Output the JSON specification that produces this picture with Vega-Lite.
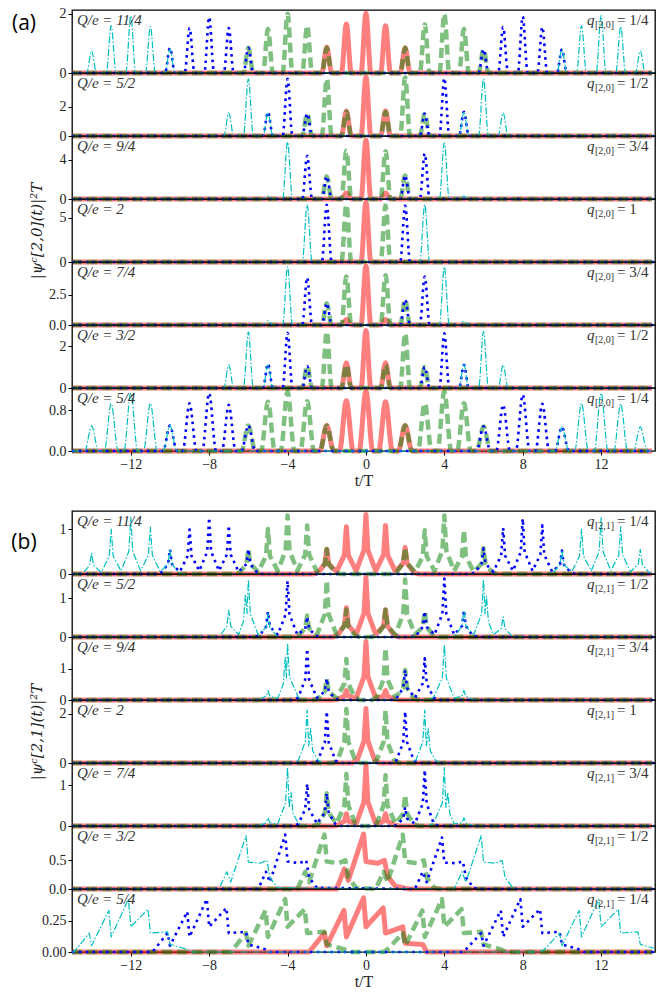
{
"$schema":"https://vega.github.io/schema/vega-lite/v6.json",
"padding":{"left":10,"top":6,"right":0,"bottom":0},
"background":"white",
"spacing":21,
"config":{
"view":{"stroke":"#000","strokeWidth":1.3},
"line":{"strokeJoin":"round"},
"text":{"font":"Liberation Serif","fontSize":15,"color":"#333","align":"left","baseline":"middle"},
"axis":{"labelFont":"Liberation Serif","labelFontSize":14,"labelColor":"#222","tickColor":"#000","tickSize":4,"domain":false,"grid":false,"labelPadding":2,"titleFont":"Liberation Serif","titleFontSize":16,"titleFontWeight":"normal","titleColor":"#222","labelFlush":false}
},
"datasets":{
"a1r":[{"x":-15,"y":0},{"x":-2.25,"y":0},{"x":-2,"y":0.88},{"x":-1.75,"y":0},{"x":-1.25,"y":0},{"x":-1,"y":1.66},{"x":-0.75,"y":0},{"x":-0.25,"y":0},{"x":0,"y":2.02},{"x":0.25,"y":0},{"x":0.75,"y":0},{"x":1,"y":1.6},{"x":1.25,"y":0},{"x":1.75,"y":0},{"x":2,"y":0.85},{"x":2.25,"y":0},{"x":14.6,"y":0}],
"a1g":[{"x":-15,"y":0},{"x":-6.25,"y":0},{"x":-6,"y":0.85},{"x":-5.75,"y":0},{"x":-5.25,"y":0},{"x":-5,"y":1.49},{"x":-4.75,"y":0},{"x":-4.25,"y":0},{"x":-4,"y":2.0},{"x":-3.75,"y":0},{"x":-3.25,"y":0},{"x":-3,"y":1.6},{"x":-2.75,"y":0},{"x":-2.25,"y":0},{"x":-2,"y":0.85},{"x":-1.75,"y":0},{"x":1.75,"y":0},{"x":2,"y":0.85},{"x":2.25,"y":0},{"x":2.75,"y":0},{"x":3,"y":1.64},{"x":3.25,"y":0},{"x":3.75,"y":0},{"x":4,"y":2.0},{"x":4.25,"y":0},{"x":4.75,"y":0},{"x":5,"y":1.49},{"x":5.25,"y":0},{"x":5.75,"y":0},{"x":6,"y":0.8},{"x":6.25,"y":0},{"x":14.6,"y":0}],
"a1b":[{"x":-15,"y":0},{"x":-10.25,"y":0},{"x":-10,"y":0.85},{"x":-9.75,"y":0},{"x":-9.25,"y":0},{"x":-9,"y":1.52},{"x":-8.75,"y":0},{"x":-8.25,"y":0},{"x":-8,"y":1.89},{"x":-7.75,"y":0},{"x":-7.25,"y":0},{"x":-7,"y":1.52},{"x":-6.75,"y":0},{"x":-6.25,"y":0},{"x":-6,"y":0.85},{"x":-5.75,"y":0},{"x":5.75,"y":0},{"x":6,"y":0.8},{"x":6.25,"y":0},{"x":6.75,"y":0},{"x":7,"y":1.55},{"x":7.25,"y":0},{"x":7.75,"y":0},{"x":8,"y":1.91},{"x":8.25,"y":0},{"x":8.75,"y":0},{"x":9,"y":1.55},{"x":9.25,"y":0},{"x":9.75,"y":0},{"x":10,"y":0.8},{"x":10.25,"y":0},{"x":14.7,"y":0}],
"a1c":[{"x":-15,"y":0},{"x":-14.25,"y":0},{"x":-14,"y":0.75},{"x":-13.75,"y":0},{"x":-13.25,"y":0},{"x":-13,"y":1.6},{"x":-12.75,"y":0},{"x":-12.25,"y":0},{"x":-12,"y":1.94},{"x":-11.75,"y":0},{"x":-11.25,"y":0},{"x":-11,"y":1.57},{"x":-10.75,"y":0},{"x":-10.25,"y":0},{"x":-10,"y":0.8},{"x":-9.75,"y":0},{"x":9.75,"y":0},{"x":10,"y":0.8},{"x":10.25,"y":0},{"x":10.75,"y":0},{"x":11,"y":1.6},{"x":11.25,"y":0},{"x":11.75,"y":0},{"x":12,"y":1.94},{"x":12.25,"y":0},{"x":12.75,"y":0},{"x":13,"y":1.57},{"x":13.25,"y":0},{"x":13.75,"y":0},{"x":14,"y":0.75},{"x":14.25,"y":0},{"x":14.7,"y":0}],
"a2r":[{"x":-15,"y":0},{"x":-1.25,"y":0},{"x":-1,"y":1.7},{"x":-0.75,"y":0},{"x":-0.25,"y":0},{"x":0,"y":4.04},{"x":0.25,"y":0},{"x":0.75,"y":0},{"x":1,"y":1.72},{"x":1.25,"y":0},{"x":14.6,"y":0}],
"a2g":[{"x":-15,"y":0},{"x":-3.25,"y":0},{"x":-3,"y":1.53},{"x":-2.75,"y":0},{"x":-2.25,"y":0},{"x":-2,"y":3.9},{"x":-1.75,"y":0},{"x":-1.25,"y":0},{"x":-1,"y":1.65},{"x":-0.75,"y":0},{"x":0.75,"y":0},{"x":1,"y":1.65},{"x":1.25,"y":0},{"x":1.75,"y":0},{"x":2,"y":4.0},{"x":2.25,"y":0},{"x":2.75,"y":0},{"x":3,"y":1.53},{"x":3.25,"y":0},{"x":14.6,"y":0}],
"a2b":[{"x":-15,"y":0},{"x":-5.25,"y":0},{"x":-5,"y":1.65},{"x":-4.75,"y":0},{"x":-4.25,"y":0},{"x":-4,"y":3.9},{"x":-3.75,"y":0},{"x":-3.25,"y":0},{"x":-3,"y":1.53},{"x":-2.75,"y":0},{"x":2.75,"y":0},{"x":3,"y":1.53},{"x":3.25,"y":0},{"x":3.75,"y":0},{"x":4,"y":3.95},{"x":4.25,"y":0},{"x":4.75,"y":0},{"x":5,"y":1.65},{"x":5.25,"y":0},{"x":14.7,"y":0}],
"a2c":[{"x":-15,"y":0},{"x":-7.25,"y":0},{"x":-7,"y":1.58},{"x":-6.75,"y":0},{"x":-6.25,"y":0},{"x":-6,"y":3.9},{"x":-5.75,"y":0},{"x":-5.25,"y":0},{"x":-5,"y":1.6},{"x":-4.75,"y":0},{"x":4.75,"y":0},{"x":5,"y":1.6},{"x":5.25,"y":0},{"x":5.75,"y":0},{"x":6,"y":3.9},{"x":6.25,"y":0},{"x":6.75,"y":0},{"x":7,"y":1.58},{"x":7.25,"y":0},{"x":14.7,"y":0}],
"a3r":[{"x":-15,"y":0},{"x":-1.25,"y":0},{"x":-1,"y":0.6},{"x":-0.75,"y":0},{"x":-0.25,"y":0},{"x":0,"y":6.0},{"x":0.25,"y":0},{"x":0.75,"y":0},{"x":1,"y":0.6},{"x":1.25,"y":0},{"x":14.6,"y":0}],
"a3g":[{"x":-15,"y":0},{"x":-2.25,"y":0},{"x":-2,"y":2.3},{"x":-1.75,"y":0},{"x":-1.25,"y":0},{"x":-1,"y":4.9},{"x":-0.75,"y":0},{"x":0.75,"y":0},{"x":1,"y":4.85},{"x":1.25,"y":0},{"x":1.75,"y":0},{"x":2,"y":2.4},{"x":2.25,"y":0},{"x":14.6,"y":0}],
"a3b":[{"x":-15,"y":0},{"x":-3.25,"y":0},{"x":-3,"y":4.4},{"x":-2.75,"y":0},{"x":-2.25,"y":0},{"x":-2,"y":2.3},{"x":-1.75,"y":0},{"x":1.75,"y":0},{"x":2,"y":2.4},{"x":2.25,"y":0},{"x":2.75,"y":0},{"x":3,"y":4.6},{"x":3.25,"y":0},{"x":14.7,"y":0}],
"a3c":[{"x":-15,"y":0},{"x":-6.25,"y":0},{"x":-6,"y":0.1},{"x":-5.75,"y":0},{"x":-5.25,"y":0},{"x":-5,"y":0.3},{"x":-4.75,"y":0},{"x":-4.25,"y":0},{"x":-4,"y":5.8},{"x":-3.75,"y":0},{"x":3.75,"y":0},{"x":4,"y":5.7},{"x":4.25,"y":0},{"x":4.75,"y":0},{"x":5,"y":0.3},{"x":5.25,"y":0},{"x":5.75,"y":0},{"x":6,"y":0.1},{"x":6.25,"y":0},{"x":14.7,"y":0}],
"a4r":[{"x":-15,"y":0},{"x":-0.25,"y":0},{"x":0,"y":6.8},{"x":0.25,"y":0},{"x":14.6,"y":0}],
"a4g":[{"x":-15,"y":0},{"x":-1.25,"y":0},{"x":-1,"y":6.5},{"x":-0.75,"y":0},{"x":0.75,"y":0},{"x":1,"y":6.4},{"x":1.25,"y":0},{"x":14.6,"y":0}],
"a4b":[{"x":-15,"y":0},{"x":-2.25,"y":0},{"x":-2,"y":6.5},{"x":-1.75,"y":0},{"x":1.75,"y":0},{"x":2,"y":6.4},{"x":2.25,"y":0},{"x":14.7,"y":0}],
"a4c":[{"x":-15,"y":0},{"x":-3.25,"y":0},{"x":-3,"y":6.5},{"x":-2.75,"y":0},{"x":2.75,"y":0},{"x":3,"y":6.5},{"x":3.25,"y":0},{"x":14.7,"y":0}],
"a5r":[{"x":-15,"y":0},{"x":-1.25,"y":0},{"x":-1,"y":0.45},{"x":-0.75,"y":0},{"x":-0.25,"y":0},{"x":0,"y":4.9},{"x":0.25,"y":0},{"x":0.75,"y":0},{"x":1,"y":0.45},{"x":1.25,"y":0},{"x":14.6,"y":0}],
"a5g":[{"x":-15,"y":0},{"x":-2.25,"y":0},{"x":-2,"y":1.8},{"x":-1.75,"y":0},{"x":-1.25,"y":0},{"x":-1,"y":4.0},{"x":-0.75,"y":0},{"x":0.75,"y":0},{"x":1,"y":4.1},{"x":1.25,"y":0},{"x":1.75,"y":0},{"x":2,"y":2.1},{"x":2.25,"y":0},{"x":14.6,"y":0}],
"a5b":[{"x":-15,"y":0},{"x":-3.25,"y":0},{"x":-3,"y":3.9},{"x":-2.75,"y":0},{"x":-2.25,"y":0},{"x":-2,"y":1.8},{"x":-1.75,"y":0},{"x":1.75,"y":0},{"x":2,"y":2.1},{"x":2.25,"y":0},{"x":2.75,"y":0},{"x":3,"y":4.0},{"x":3.25,"y":0},{"x":14.7,"y":0}],
"a5c":[{"x":-15,"y":0},{"x":-5.25,"y":0},{"x":-5,"y":0.35},{"x":-4.75,"y":0},{"x":-4.25,"y":0},{"x":-4,"y":4.8},{"x":-3.75,"y":0},{"x":3.75,"y":0},{"x":4,"y":4.8},{"x":4.25,"y":0},{"x":4.75,"y":0},{"x":5,"y":0.3},{"x":5.25,"y":0},{"x":14.7,"y":0}],
"a6r":[{"x":-15,"y":0},{"x":-1.25,"y":0},{"x":-1,"y":1.2},{"x":-0.75,"y":0},{"x":-0.25,"y":0},{"x":0,"y":2.74},{"x":0.25,"y":0},{"x":0.75,"y":0},{"x":1,"y":1.2},{"x":1.25,"y":0},{"x":14.6,"y":0}],
"a6g":[{"x":-15,"y":0},{"x":-3.25,"y":0},{"x":-3,"y":1.05},{"x":-2.75,"y":0},{"x":-2.25,"y":0},{"x":-2,"y":2.69},{"x":-1.75,"y":0},{"x":-1.25,"y":0},{"x":-1,"y":1.1},{"x":-0.75,"y":0},{"x":0.75,"y":0},{"x":1,"y":1.1},{"x":1.25,"y":0},{"x":1.75,"y":0},{"x":2,"y":2.6},{"x":2.25,"y":0},{"x":2.75,"y":0},{"x":3,"y":1.0},{"x":3.25,"y":0},{"x":14.6,"y":0}],
"a6b":[{"x":-15,"y":0},{"x":-5.25,"y":0},{"x":-5,"y":1.16},{"x":-4.75,"y":0},{"x":-4.25,"y":0},{"x":-4,"y":2.63},{"x":-3.75,"y":0},{"x":-3.25,"y":0},{"x":-3,"y":1.05},{"x":-2.75,"y":0},{"x":2.75,"y":0},{"x":3,"y":1.0},{"x":3.25,"y":0},{"x":3.75,"y":0},{"x":4,"y":2.6},{"x":4.25,"y":0},{"x":4.75,"y":0},{"x":5,"y":1.1},{"x":5.25,"y":0},{"x":14.7,"y":0}],
"a6c":[{"x":-15,"y":0},{"x":-7.25,"y":0},{"x":-7,"y":1.1},{"x":-6.75,"y":0},{"x":-6.25,"y":0},{"x":-6,"y":2.67},{"x":-5.75,"y":0},{"x":-5.25,"y":0},{"x":-5,"y":1.1},{"x":-4.75,"y":0},{"x":4.75,"y":0},{"x":5,"y":1.1},{"x":5.25,"y":0},{"x":5.75,"y":0},{"x":6,"y":2.69},{"x":6.25,"y":0},{"x":6.75,"y":0},{"x":7,"y":1.1},{"x":7.25,"y":0},{"x":14.7,"y":0}],
"a7r":[{"x":-15,"y":0},{"x":-2.35,"y":0},{"x":-2,"y":0.5},{"x":-1.65,"y":0},{"x":-1.35,"y":0},{"x":-1,"y":0.98},{"x":-0.65,"y":0},{"x":-0.35,"y":0},{"x":0,"y":1.17},{"x":0.35,"y":0},{"x":0.65,"y":0},{"x":1,"y":0.96},{"x":1.35,"y":0},{"x":1.65,"y":0},{"x":2,"y":0.5},{"x":2.35,"y":0},{"x":14.6,"y":0}],
"a7g":[{"x":-15,"y":0},{"x":-6.35,"y":0},{"x":-6,"y":0.5},{"x":-5.65,"y":0},{"x":-5.35,"y":0},{"x":-5,"y":0.96},{"x":-4.65,"y":0},{"x":-4.35,"y":0},{"x":-4,"y":1.16},{"x":-3.65,"y":0},{"x":-3.35,"y":0},{"x":-3,"y":0.97},{"x":-2.65,"y":0},{"x":-2.35,"y":0},{"x":-2,"y":0.5},{"x":-1.65,"y":0},{"x":1.65,"y":0},{"x":2,"y":0.5},{"x":2.35,"y":0},{"x":2.65,"y":0},{"x":3,"y":0.93},{"x":3.35,"y":0},{"x":3.65,"y":0},{"x":4,"y":1.16},{"x":4.35,"y":0},{"x":4.65,"y":0},{"x":5,"y":0.93},{"x":5.35,"y":0},{"x":5.65,"y":0},{"x":6,"y":0.48},{"x":6.35,"y":0},{"x":14.6,"y":0}],
"a7b":[{"x":-15,"y":0},{"x":-10.35,"y":0},{"x":-10,"y":0.5},{"x":-9.65,"y":0},{"x":-9.35,"y":0},{"x":-9,"y":0.93},{"x":-8.65,"y":0},{"x":-8.35,"y":0},{"x":-8,"y":1.13},{"x":-7.65,"y":0},{"x":-7.35,"y":0},{"x":-7,"y":0.9},{"x":-6.65,"y":0},{"x":-6.35,"y":0},{"x":-6,"y":0.5},{"x":-5.65,"y":0},{"x":5.65,"y":0},{"x":6,"y":0.48},{"x":6.35,"y":0},{"x":6.65,"y":0},{"x":7,"y":0.9},{"x":7.35,"y":0},{"x":7.65,"y":0},{"x":8,"y":1.1},{"x":8.35,"y":0},{"x":8.65,"y":0},{"x":9,"y":0.92},{"x":9.35,"y":0},{"x":9.65,"y":0},{"x":10,"y":0.47},{"x":10.35,"y":0},{"x":14.7,"y":0}],
"a7c":[{"x":-15,"y":0},{"x":-14.35,"y":0},{"x":-14,"y":0.49},{"x":-13.65,"y":0},{"x":-13.35,"y":0},{"x":-13,"y":0.93},{"x":-12.65,"y":0},{"x":-12.35,"y":0},{"x":-12,"y":1.13},{"x":-11.65,"y":0},{"x":-11.35,"y":0},{"x":-11,"y":0.93},{"x":-10.65,"y":0},{"x":-10.35,"y":0},{"x":-10,"y":0.5},{"x":-9.65,"y":0},{"x":9.65,"y":0},{"x":10,"y":0.47},{"x":10.35,"y":0},{"x":10.65,"y":0},{"x":11,"y":0.93},{"x":11.35,"y":0},{"x":11.65,"y":0},{"x":12,"y":1.13},{"x":12.35,"y":0},{"x":12.65,"y":0},{"x":13,"y":0.92},{"x":13.35,"y":0},{"x":13.65,"y":0},{"x":14,"y":0.47},{"x":14.35,"y":0},{"x":14.7,"y":0}],
"b1r":[{"x":-15,"y":0},{"x":-2.7,"y":0},{"x":-2.45,"y":0.03},{"x":-2.1,"y":0.22},{"x":-2,"y":0.55},{"x":-1.9,"y":0.22},{"x":-1.5,"y":0.05},{"x":-1.1,"y":0.42},{"x":-1,"y":1.05},{"x":-0.9,"y":0.42},{"x":-0.5,"y":0.07},{"x":-0.1,"y":0.53},{"x":0,"y":1.32},{"x":0.1,"y":0.53},{"x":0.5,"y":0.07},{"x":0.9,"y":0.43},{"x":1,"y":1.08},{"x":1.1,"y":0.43},{"x":1.5,"y":0.05},{"x":1.9,"y":0.24},{"x":2,"y":0.59},{"x":2.1,"y":0.24},{"x":2.45,"y":0.03},{"x":2.7,"y":0},{"x":14.6,"y":0}],
"b1g":[{"x":-15,"y":0},{"x":-6.7,"y":0},{"x":-6.45,"y":0.03},{"x":-6.1,"y":0.22},{"x":-6,"y":0.55},{"x":-5.9,"y":0.22},{"x":-5.5,"y":0.05},{"x":-5.1,"y":0.4},{"x":-5,"y":1.0},{"x":-4.9,"y":0.4},{"x":-4.5,"y":0.07},{"x":-4.1,"y":0.52},{"x":-4,"y":1.3},{"x":-3.9,"y":0.52},{"x":-3.5,"y":0.07},{"x":-3.1,"y":0.43},{"x":-3,"y":1.08},{"x":-2.9,"y":0.43},{"x":-2.5,"y":0.05},{"x":-2.1,"y":0.22},{"x":-2,"y":0.55},{"x":-1.9,"y":0.22},{"x":-1.55,"y":0.03},{"x":-1.3,"y":0},{"x":1.3,"y":0},{"x":1.55,"y":0.03},{"x":1.9,"y":0.24},{"x":2,"y":0.59},{"x":2.1,"y":0.24},{"x":2.5,"y":0.05},{"x":2.9,"y":0.39},{"x":3,"y":0.97},{"x":3.1,"y":0.39},{"x":3.5,"y":0.07},{"x":3.9,"y":0.52},{"x":4,"y":1.3},{"x":4.1,"y":0.52},{"x":4.5,"y":0.07},{"x":4.9,"y":0.39},{"x":5,"y":0.98},{"x":5.1,"y":0.39},{"x":5.5,"y":0.05},{"x":5.9,"y":0.23},{"x":6,"y":0.57},{"x":6.1,"y":0.23},{"x":6.45,"y":0.03},{"x":6.7,"y":0},{"x":14.6,"y":0}],
"b1b":[{"x":-15,"y":0},{"x":-10.7,"y":0},{"x":-10.45,"y":0.03},{"x":-10.1,"y":0.22},{"x":-10,"y":0.55},{"x":-9.9,"y":0.22},{"x":-9.5,"y":0.05},{"x":-9.1,"y":0.4},{"x":-9,"y":0.99},{"x":-8.9,"y":0.4},{"x":-8.5,"y":0.07},{"x":-8.1,"y":0.5},{"x":-8,"y":1.25},{"x":-7.9,"y":0.5},{"x":-7.5,"y":0.07},{"x":-7.1,"y":0.43},{"x":-7,"y":1.08},{"x":-6.9,"y":0.43},{"x":-6.5,"y":0.05},{"x":-6.1,"y":0.22},{"x":-6,"y":0.55},{"x":-5.9,"y":0.22},{"x":-5.55,"y":0.03},{"x":-5.3,"y":0},{"x":5.3,"y":0},{"x":5.55,"y":0.03},{"x":5.9,"y":0.23},{"x":6,"y":0.57},{"x":6.1,"y":0.23},{"x":6.5,"y":0.05},{"x":6.9,"y":0.41},{"x":7,"y":1.02},{"x":7.1,"y":0.41},{"x":7.5,"y":0.07},{"x":7.9,"y":0.49},{"x":8,"y":1.23},{"x":8.1,"y":0.49},{"x":8.5,"y":0.07},{"x":8.9,"y":0.43},{"x":9,"y":1.08},{"x":9.1,"y":0.43},{"x":9.5,"y":0.05},{"x":9.9,"y":0.21},{"x":10,"y":0.52},{"x":10.1,"y":0.21},{"x":10.45,"y":0.03},{"x":10.7,"y":0},{"x":14.7,"y":0}],
"b1c":[{"x":-15,"y":0},{"x":-14.7,"y":0},{"x":-14.45,"y":0.02},{"x":-14.1,"y":0.19},{"x":-14,"y":0.47},{"x":-13.9,"y":0.19},{"x":-13.5,"y":0.04},{"x":-13.1,"y":0.4},{"x":-13,"y":1.0},{"x":-12.9,"y":0.4},{"x":-12.5,"y":0.07},{"x":-12.1,"y":0.5},{"x":-12,"y":1.26},{"x":-11.9,"y":0.5},{"x":-11.5,"y":0.07},{"x":-11.1,"y":0.42},{"x":-11,"y":1.04},{"x":-10.9,"y":0.42},{"x":-10.5,"y":0.05},{"x":-10.1,"y":0.22},{"x":-10,"y":0.55},{"x":-9.9,"y":0.22},{"x":-9.55,"y":0.03},{"x":-9.3,"y":0},{"x":9.3,"y":0},{"x":9.55,"y":0.03},{"x":9.9,"y":0.21},{"x":10,"y":0.52},{"x":10.1,"y":0.21},{"x":10.5,"y":0.05},{"x":10.9,"y":0.4},{"x":11,"y":1.0},{"x":11.1,"y":0.4},{"x":11.5,"y":0.07},{"x":11.9,"y":0.5},{"x":12,"y":1.25},{"x":12.1,"y":0.5},{"x":12.5,"y":0.07},{"x":12.9,"y":0.42},{"x":13,"y":1.05},{"x":13.1,"y":0.42},{"x":13.5,"y":0.05},{"x":13.9,"y":0.22},{"x":14,"y":0.55},{"x":14.1,"y":0.22},{"x":14.45,"y":0.03},{"x":14.7,"y":0}],
"b2r":[{"x":-15,"y":0},{"x":-1.7,"y":0},{"x":-1.45,"y":0.04},{"x":-1.1,"y":0.3},{"x":-1,"y":0.75},{"x":-0.9,"y":0.3},{"x":-0.5,"y":0.07},{"x":-0.1,"y":0.61},{"x":0,"y":1.53},{"x":0.1,"y":0.61},{"x":0.5,"y":0.07},{"x":0.9,"y":0.28},{"x":1,"y":0.7},{"x":1.1,"y":0.28},{"x":1.45,"y":0.04},{"x":1.7,"y":0},{"x":14.6,"y":0}],
"b2g":[{"x":-15,"y":0},{"x":-3.7,"y":0},{"x":-3.45,"y":0.03},{"x":-3.1,"y":0.22},{"x":-3,"y":0.55},{"x":-2.9,"y":0.22},{"x":-2.5,"y":0.06},{"x":-2.1,"y":0.58},{"x":-2,"y":1.45},{"x":-1.9,"y":0.58},{"x":-1.5,"y":0.06},{"x":-1.1,"y":0.28},{"x":-1,"y":0.7},{"x":-0.9,"y":0.28},{"x":-0.55,"y":0.04},{"x":-0.3,"y":0},{"x":0.3,"y":0},{"x":0.55,"y":0.04},{"x":0.9,"y":0.28},{"x":1,"y":0.7},{"x":1.1,"y":0.28},{"x":1.5,"y":0.06},{"x":1.9,"y":0.59},{"x":2,"y":1.48},{"x":2.1,"y":0.59},{"x":2.5,"y":0.06},{"x":2.9,"y":0.26},{"x":3,"y":0.66},{"x":3.1,"y":0.26},{"x":3.45,"y":0.03},{"x":3.7,"y":0},{"x":14.6,"y":0}],
"b2b":[{"x":-15,"y":0},{"x":-5.7,"y":0},{"x":-5.45,"y":0.03},{"x":-5.1,"y":0.26},{"x":-5,"y":0.65},{"x":-4.9,"y":0.26},{"x":-4.5,"y":0.06},{"x":-4.1,"y":0.58},{"x":-4,"y":1.44},{"x":-3.9,"y":0.58},{"x":-3.5,"y":0.06},{"x":-3.1,"y":0.21},{"x":-3,"y":0.52},{"x":-2.9,"y":0.21},{"x":-2.55,"y":0.03},{"x":-2.3,"y":0},{"x":2.3,"y":0},{"x":2.55,"y":0.03},{"x":2.9,"y":0.26},{"x":3,"y":0.66},{"x":3.1,"y":0.26},{"x":3.5,"y":0.06},{"x":3.9,"y":0.6},{"x":4,"y":1.5},{"x":4.1,"y":0.6},{"x":4.5,"y":0.06},{"x":4.9,"y":0.28},{"x":5,"y":0.69},{"x":5.1,"y":0.28},{"x":5.45,"y":0.03},{"x":5.7,"y":0},{"x":14.7,"y":0}],
"b2c":[{"x":-15,"y":0},{"x":-7.7,"y":0},{"x":-7.45,"y":0.03},{"x":-7.1,"y":0.28},{"x":-7,"y":0.69},{"x":-6.9,"y":0.28},{"x":-6.5,"y":0.06},{"x":-6.25,"y":0.4},{"x":-6.15,"y":1.1},{"x":-6.07,"y":0.6},{"x":-6,"y":1.48},{"x":-5.9,"y":0.59},{"x":-5.5,"y":0.06},{"x":-5.1,"y":0.24},{"x":-5,"y":0.6},{"x":-4.9,"y":0.24},{"x":-4.55,"y":0.03},{"x":-4.3,"y":0},{"x":4.3,"y":0},{"x":4.55,"y":0.03},{"x":4.9,"y":0.28},{"x":5,"y":0.69},{"x":5.1,"y":0.28},{"x":5.5,"y":0.06},{"x":5.9,"y":0.59},{"x":6,"y":1.48},{"x":6.08,"y":0.6},{"x":6.15,"y":1.05},{"x":6.25,"y":0.4},{"x":6.5,"y":0.06},{"x":6.9,"y":0.21},{"x":7,"y":0.52},{"x":7.1,"y":0.21},{"x":7.45,"y":0.03},{"x":7.7,"y":0},{"x":14.7,"y":0}],
"b3r":[{"x":-15,"y":0},{"x":-1.7,"y":0},{"x":-1.45,"y":0.02},{"x":-1.1,"y":0.12},{"x":-1,"y":0.3},{"x":-0.9,"y":0.12},{"x":-0.5,"y":0.06},{"x":-0.1,"y":0.74},{"x":0,"y":1.86},{"x":0.1,"y":0.74},{"x":0.5,"y":0.06},{"x":0.9,"y":0.12},{"x":1,"y":0.3},{"x":1.1,"y":0.12},{"x":1.45,"y":0.02},{"x":1.7,"y":0},{"x":14.6,"y":0}],
"b3g":[{"x":-15,"y":0},{"x":-2.7,"y":0},{"x":-2.45,"y":0.03},{"x":-2.1,"y":0.27},{"x":-2,"y":0.68},{"x":-1.9,"y":0.27},{"x":-1.5,"y":0.06},{"x":-1.1,"y":0.52},{"x":-1,"y":1.3},{"x":-0.9,"y":0.52},{"x":-0.55,"y":0.07},{"x":-0.3,"y":0},{"x":0.3,"y":0},{"x":0.55,"y":0.08},{"x":0.9,"y":0.66},{"x":1,"y":1.65},{"x":1.1,"y":0.66},{"x":1.5,"y":0.08},{"x":1.9,"y":0.38},{"x":2,"y":0.95},{"x":2.1,"y":0.38},{"x":2.45,"y":0.05},{"x":2.7,"y":0},{"x":14.6,"y":0}],
"b3b":[{"x":-15,"y":0},{"x":-3.7,"y":0},{"x":-3.45,"y":0.08},{"x":-3.1,"y":0.65},{"x":-3,"y":1.62},{"x":-2.9,"y":0.65},{"x":-2.5,"y":0.07},{"x":-2.1,"y":0.27},{"x":-2,"y":0.68},{"x":-1.9,"y":0.27},{"x":-1.55,"y":0.03},{"x":-1.3,"y":0},{"x":1.3,"y":0},{"x":1.55,"y":0.05},{"x":1.9,"y":0.38},{"x":2,"y":0.95},{"x":2.1,"y":0.38},{"x":2.5,"y":0.07},{"x":2.9,"y":0.53},{"x":3,"y":1.32},{"x":3.1,"y":0.53},{"x":3.45,"y":0.07},{"x":3.7,"y":0},{"x":14.7,"y":0}],
"b3c":[{"x":-15,"y":0},{"x":-5.7,"y":0},{"x":-5.45,"y":0.02},{"x":-5.1,"y":0.12},{"x":-5,"y":0.3},{"x":-4.9,"y":0.12},{"x":-4.5,"y":0.06},{"x":-4.22,"y":0.5},{"x":-4.12,"y":1.35},{"x":-4.06,"y":0.7},{"x":-4,"y":1.8},{"x":-3.9,"y":0.72},{"x":-3.45,"y":0.09},{"x":-3.2,"y":0},{"x":3.2,"y":0},{"x":3.45,"y":0.09},{"x":3.9,"y":0.7},{"x":4,"y":1.75},{"x":4.1,"y":0.7},{"x":4.5,"y":0.06},{"x":4.9,"y":0.12},{"x":5,"y":0.3},{"x":5.1,"y":0.12},{"x":5.45,"y":0.02},{"x":5.7,"y":0},{"x":14.7,"y":0}],
"b4r":[{"x":-15,"y":0},{"x":-0.7,"y":0},{"x":-0.45,"y":0.11},{"x":-0.1,"y":0.89},{"x":0,"y":2.22},{"x":0.1,"y":0.89},{"x":0.45,"y":0.11},{"x":0.7,"y":0},{"x":14.6,"y":0}],
"b4g":[{"x":-15,"y":0},{"x":-1.7,"y":0},{"x":-1.45,"y":0.11},{"x":-1.1,"y":0.88},{"x":-1,"y":2.2},{"x":-0.9,"y":0.88},{"x":-0.55,"y":0.11},{"x":-0.3,"y":0},{"x":0.3,"y":0},{"x":0.55,"y":0.11},{"x":0.9,"y":0.86},{"x":1,"y":2.16},{"x":1.1,"y":0.86},{"x":1.45,"y":0.11},{"x":1.7,"y":0},{"x":14.6,"y":0}],
"b4b":[{"x":-15,"y":0},{"x":-2.7,"y":0},{"x":-2.45,"y":0.1},{"x":-2.1,"y":0.84},{"x":-2,"y":2.1},{"x":-1.9,"y":0.84},{"x":-1.55,"y":0.1},{"x":-1.3,"y":0},{"x":1.3,"y":0},{"x":1.55,"y":0.1},{"x":1.9,"y":0.84},{"x":2,"y":2.1},{"x":2.1,"y":0.84},{"x":2.45,"y":0.1},{"x":2.7,"y":0},{"x":14.7,"y":0}],
"b4c":[{"x":-15,"y":0},{"x":-3.7,"y":0},{"x":-3.45,"y":0.11},{"x":-3.1,"y":0.86},{"x":-3,"y":2.16},{"x":-2.92,"y":0.7},{"x":-2.82,"y":1.4},{"x":-2.72,"y":0.5},{"x":-2.45,"y":0.11},{"x":-2.2,"y":0},{"x":2.3,"y":0},{"x":2.55,"y":0.11},{"x":2.9,"y":0.86},{"x":3,"y":2.16},{"x":3.08,"y":0.7},{"x":3.18,"y":1.4},{"x":3.28,"y":0.5},{"x":3.55,"y":0.11},{"x":3.8,"y":0},{"x":14.7,"y":0}],
"b5r":[{"x":-15,"y":0},{"x":-1.7,"y":0},{"x":-1.45,"y":0.02},{"x":-1.1,"y":0.12},{"x":-1,"y":0.3},{"x":-0.9,"y":0.12},{"x":-0.5,"y":0.05},{"x":-0.1,"y":0.59},{"x":0,"y":1.47},{"x":0.1,"y":0.59},{"x":0.5,"y":0.05},{"x":0.9,"y":0.12},{"x":1,"y":0.3},{"x":1.1,"y":0.12},{"x":1.45,"y":0.02},{"x":1.7,"y":0},{"x":14.6,"y":0}],
"b5g":[{"x":-15,"y":0},{"x":-2.7,"y":0},{"x":-2.45,"y":0.04},{"x":-2.1,"y":0.32},{"x":-2,"y":0.8},{"x":-1.9,"y":0.32},{"x":-1.5,"y":0.06},{"x":-1.1,"y":0.51},{"x":-1,"y":1.27},{"x":-0.9,"y":0.51},{"x":-0.55,"y":0.06},{"x":-0.3,"y":0},{"x":0.3,"y":0},{"x":0.55,"y":0.06},{"x":0.9,"y":0.5},{"x":1,"y":1.24},{"x":1.1,"y":0.5},{"x":1.5,"y":0.06},{"x":1.9,"y":0.3},{"x":2,"y":0.76},{"x":2.1,"y":0.3},{"x":2.45,"y":0.04},{"x":2.7,"y":0},{"x":14.6,"y":0}],
"b5b":[{"x":-15,"y":0},{"x":-3.7,"y":0},{"x":-3.45,"y":0.05},{"x":-3.1,"y":0.41},{"x":-3,"y":1.03},{"x":-2.9,"y":0.41},{"x":-2.5,"y":0.06},{"x":-2.1,"y":0.32},{"x":-2,"y":0.8},{"x":-1.9,"y":0.32},{"x":-1.55,"y":0.04},{"x":-1.3,"y":0},{"x":1.3,"y":0},{"x":1.55,"y":0.02},{"x":1.9,"y":0.18},{"x":2,"y":0.46},{"x":2.1,"y":0.18},{"x":2.5,"y":0.06},{"x":2.9,"y":0.55},{"x":3,"y":1.37},{"x":3.1,"y":0.55},{"x":3.45,"y":0.07},{"x":3.7,"y":0},{"x":14.7,"y":0}],
"b5c":[{"x":-15,"y":0},{"x":-5.7,"y":0},{"x":-5.45,"y":0.01},{"x":-5.1,"y":0.08},{"x":-5,"y":0.2},{"x":-4.9,"y":0.08},{"x":-4.5,"y":0.05},{"x":-4.1,"y":0.57},{"x":-4,"y":1.43},{"x":-3.92,"y":0.45},{"x":-3.82,"y":0.82},{"x":-3.72,"y":0.3},{"x":-3.45,"y":0.07},{"x":-3.2,"y":0},{"x":3.2,"y":0},{"x":3.45,"y":0.07},{"x":3.9,"y":0.57},{"x":4,"y":1.43},{"x":4.08,"y":0.45},{"x":4.18,"y":0.82},{"x":4.28,"y":0.3},{"x":4.5,"y":0.05},{"x":4.9,"y":0.08},{"x":5,"y":0.2},{"x":5.1,"y":0.08},{"x":5.45,"y":0.01},{"x":5.7,"y":0},{"x":14.7,"y":0}],
"b6r":[{"x":-15,"y":0},{"x":-1.5,"y":0},{"x":-1.1,"y":0.35},{"x":-0.9,"y":0.15},{"x":-0.12,"y":0.96},{"x":0,"y":0.48},{"x":0.6,"y":0.45},{"x":0.95,"y":0.5},{"x":1.1,"y":0.22},{"x":1.5,"y":0.05},{"x":2.2,"y":0},{"x":14.6,"y":0}],
"b6g":[{"x":-15,"y":0},{"x":-3.5,"y":0},{"x":-3.1,"y":0.3},{"x":-2.9,"y":0.12},{"x":-2.12,"y":0.95},{"x":-2,"y":0.48},{"x":-1.4,"y":0.45},{"x":-1.05,"y":0.5},{"x":-0.9,"y":0.2},{"x":-0.5,"y":0.02},{"x":0.5,"y":0},{"x":0.9,"y":0.3},{"x":1.1,"y":0.12},{"x":1.88,"y":0.95},{"x":2,"y":0.48},{"x":2.6,"y":0.45},{"x":2.95,"y":0.5},{"x":3.1,"y":0.2},{"x":3.5,"y":0.02},{"x":3.8,"y":0},{"x":14.6,"y":0}],
"b6b":[{"x":-15,"y":0},{"x":-5.5,"y":0},{"x":-5.1,"y":0.3},{"x":-4.9,"y":0.12},{"x":-4.12,"y":0.95},{"x":-4,"y":0.48},{"x":-3.4,"y":0.45},{"x":-3.05,"y":0.5},{"x":-2.9,"y":0.2},{"x":-2.5,"y":0.02},{"x":2.5,"y":0},{"x":2.9,"y":0.3},{"x":3.1,"y":0.12},{"x":3.88,"y":0.9},{"x":4,"y":0.46},{"x":4.6,"y":0.45},{"x":4.95,"y":0.48},{"x":5.1,"y":0.2},{"x":5.5,"y":0.02},{"x":5.8,"y":0},{"x":14.7,"y":0}],
"b6c":[{"x":-15,"y":0},{"x":-7.5,"y":0},{"x":-7.1,"y":0.3},{"x":-6.9,"y":0.12},{"x":-6.12,"y":0.93},{"x":-6,"y":0.47},{"x":-5.4,"y":0.45},{"x":-5.05,"y":0.5},{"x":-4.9,"y":0.2},{"x":-4.5,"y":0.02},{"x":4.5,"y":0},{"x":4.9,"y":0.3},{"x":5.1,"y":0.12},{"x":5.88,"y":0.93},{"x":6,"y":0.47},{"x":6.6,"y":0.45},{"x":6.95,"y":0.5},{"x":7.1,"y":0.2},{"x":7.5,"y":0.02},{"x":7.8,"y":0},{"x":14.7,"y":0}],
"b7r":[{"x":-15,"y":0},{"x":-2.9,"y":0},{"x":-2.12,"y":0.15},{"x":-2,"y":0.05},{"x":-1.12,"y":0.33},{"x":-1,"y":0.12},{"x":-0.12,"y":0.43},{"x":0,"y":0.2},{"x":0.88,"y":0.35},{"x":1,"y":0.15},{"x":1.88,"y":0.2},{"x":2,"y":0.07},{"x":2.9,"y":0.06},{"x":3.1,"y":0},{"x":14.6,"y":0}],
"b7g":[{"x":-15,"y":0},{"x":-6.9,"y":0},{"x":-6.12,"y":0.15},{"x":-6,"y":0.05},{"x":-5.12,"y":0.33},{"x":-5,"y":0.12},{"x":-4.12,"y":0.42},{"x":-4,"y":0.2},{"x":-3.12,"y":0.34},{"x":-3,"y":0.15},{"x":-2.12,"y":0.16},{"x":-2,"y":0.06},{"x":-1.1,"y":0.02},{"x":-0.9,"y":0},{"x":0.9,"y":0},{"x":1.1,"y":0.02},{"x":1.88,"y":0.15},{"x":2,"y":0.05},{"x":2.88,"y":0.33},{"x":3,"y":0.12},{"x":3.88,"y":0.42},{"x":4,"y":0.2},{"x":4.88,"y":0.34},{"x":5,"y":0.15},{"x":5.88,"y":0.16},{"x":6,"y":0.06},{"x":6.9,"y":0.02},{"x":7.1,"y":0},{"x":14.6,"y":0}],
"b7b":[{"x":-15,"y":0},{"x":-10.9,"y":0},{"x":-10.12,"y":0.15},{"x":-10,"y":0.05},{"x":-9.12,"y":0.32},{"x":-9,"y":0.12},{"x":-8.12,"y":0.42},{"x":-8,"y":0.2},{"x":-7.12,"y":0.35},{"x":-7,"y":0.15},{"x":-6.12,"y":0.16},{"x":-6,"y":0.06},{"x":-5.1,"y":0.02},{"x":-4.9,"y":0},{"x":4.9,"y":0},{"x":5.1,"y":0.02},{"x":5.88,"y":0.15},{"x":6,"y":0.05},{"x":6.88,"y":0.33},{"x":7,"y":0.12},{"x":7.88,"y":0.42},{"x":8,"y":0.2},{"x":8.88,"y":0.34},{"x":9,"y":0.15},{"x":9.88,"y":0.16},{"x":10,"y":0.06},{"x":10.9,"y":0.02},{"x":11.1,"y":0},{"x":14.7,"y":0}],
"b7c":[{"x":-15,"y":0},{"x":-14.9,"y":0},{"x":-14.12,"y":0.15},{"x":-14,"y":0.05},{"x":-13.12,"y":0.33},{"x":-13,"y":0.12},{"x":-12.12,"y":0.42},{"x":-12,"y":0.2},{"x":-11.12,"y":0.34},{"x":-11,"y":0.15},{"x":-10.12,"y":0.16},{"x":-10,"y":0.06},{"x":-9.1,"y":0.02},{"x":-8.9,"y":0},{"x":8.9,"y":0},{"x":9.1,"y":0.02},{"x":9.88,"y":0.15},{"x":10,"y":0.05},{"x":10.88,"y":0.33},{"x":11,"y":0.12},{"x":11.88,"y":0.42},{"x":12,"y":0.2},{"x":12.88,"y":0.34},{"x":13,"y":0.15},{"x":13.88,"y":0.16},{"x":14,"y":0.06},{"x":14.7,"y":0.03}]
},
"vconcat":[
{"spacing":0,"bounds":"flush","resolve":{"scale":{"x":"independent","y":"independent"}},"vconcat":[
{"width":583,"height":63,"layer":[
{"encoding":{"x":{"field":"x","type":"quantitative","scale":{"domain":[-15,14.75],"nice":false,"zero":false},"axis":null},"y":{"field":"y","type":"quantitative","scale":{"domain":[0,2.13],"nice":false,"zero":false},"axis":{"values":[0,2],"format":"d","title":null}}},"layer":[
{"data":{"name":"a1r"},"mark":{"type":"line","color":"#ff0000","opacity":0.5,"strokeWidth":5,"interpolate":"monotone"}},
{"data":{"name":"a1g"},"mark":{"type":"line","color":"#008000","opacity":0.5,"strokeWidth":4.5,"strokeDash":[10,5],"interpolate":"monotone"}},
{"data":{"name":"a1b"},"mark":{"type":"line","color":"#0000ff","strokeWidth":2.6,"strokeDash":[2.6,4.2],"interpolate":"monotone"}},
{"data":{"name":"a1c"},"mark":{"type":"line","color":"#00bfbf","strokeWidth":1.2,"strokeDash":[7,2,1.5,2],"interpolate":"monotone"}}]},
{"data":{"values":[{"t":"(a)"}]},"mark":{"type":"text","font":"Open Sans","fontSize":21,"color":"#000","align":"center"},"encoding":{"x":{"datum":-17.45,"axis":null},"y":{"datum":1.66},"text":{"field":"t"}}},
{"data":{"values":[{"t":"Q/e = 11/4"}]},"mark":{"type":"text","fontStyle":"italic"},"encoding":{"x":{"datum":-14.75,"axis":null},"y":{"datum":1.79},"text":{"field":"t"}}},
{"data":{"values":[{"t":"q"}]},"mark":{"type":"text","fontStyle":"italic"},"encoding":{"x":{"datum":11.28,"axis":null},"y":{"datum":1.79},"text":{"field":"t"}}},
{"data":{"values":[{"t":"[2,0]"}]},"mark":{"type":"text","fontSize":10,"dx":8,"dy":5},"encoding":{"x":{"datum":11.28,"axis":null},"y":{"datum":1.79},"text":{"field":"t"}}},
{"data":{"values":[{"t":"= 1/4"}]},"mark":{"type":"text","dx":30},"encoding":{"x":{"datum":11.28,"axis":null},"y":{"datum":1.79},"text":{"field":"t"}}}
]},
{"width":583,"height":63,"layer":[
{"encoding":{"x":{"field":"x","type":"quantitative","scale":{"domain":[-15,14.75],"nice":false,"zero":false},"axis":null},"y":{"field":"y","type":"quantitative","scale":{"domain":[0,4.3],"nice":false,"zero":false},"axis":{"values":[0,2],"format":"d","title":null}}},"layer":[
{"data":{"name":"a2r"},"mark":{"type":"line","color":"#ff0000","opacity":0.5,"strokeWidth":5,"interpolate":"monotone"}},
{"data":{"name":"a2g"},"mark":{"type":"line","color":"#008000","opacity":0.5,"strokeWidth":4.5,"strokeDash":[10,5],"interpolate":"monotone"}},
{"data":{"name":"a2b"},"mark":{"type":"line","color":"#0000ff","strokeWidth":2.6,"strokeDash":[2.6,4.2],"interpolate":"monotone"}},
{"data":{"name":"a2c"},"mark":{"type":"line","color":"#00bfbf","strokeWidth":1.2,"strokeDash":[7,2,1.5,2],"interpolate":"monotone"}}]},
{"data":{"values":[{"t":"Q/e = 5/2"}]},"mark":{"type":"text","fontStyle":"italic"},"encoding":{"x":{"datum":-14.75,"axis":null},"y":{"datum":3.61},"text":{"field":"t"}}},
{"data":{"values":[{"t":"q"}]},"mark":{"type":"text","fontStyle":"italic"},"encoding":{"x":{"datum":11.28,"axis":null},"y":{"datum":3.61},"text":{"field":"t"}}},
{"data":{"values":[{"t":"[2,0]"}]},"mark":{"type":"text","fontSize":10,"dx":8,"dy":5},"encoding":{"x":{"datum":11.28,"axis":null},"y":{"datum":3.61},"text":{"field":"t"}}},
{"data":{"values":[{"t":"= 1/2"}]},"mark":{"type":"text","dx":30},"encoding":{"x":{"datum":11.28,"axis":null},"y":{"datum":3.61},"text":{"field":"t"}}}
]},
{"width":583,"height":63,"layer":[
{"encoding":{"x":{"field":"x","type":"quantitative","scale":{"domain":[-15,14.75],"nice":false,"zero":false},"axis":null},"y":{"field":"y","type":"quantitative","scale":{"domain":[0,6.4],"nice":false,"zero":false},"axis":{"values":[0,4],"format":"d","title":null}}},"layer":[
{"data":{"name":"a3r"},"mark":{"type":"line","color":"#ff0000","opacity":0.5,"strokeWidth":5,"interpolate":"monotone"}},
{"data":{"name":"a3g"},"mark":{"type":"line","color":"#008000","opacity":0.5,"strokeWidth":4.5,"strokeDash":[10,5],"interpolate":"monotone"}},
{"data":{"name":"a3b"},"mark":{"type":"line","color":"#0000ff","strokeWidth":2.6,"strokeDash":[2.6,4.2],"interpolate":"monotone"}},
{"data":{"name":"a3c"},"mark":{"type":"line","color":"#00bfbf","strokeWidth":1.2,"strokeDash":[7,2,1.5,2],"interpolate":"monotone"}}]},
{"data":{"values":[{"t":"Q/e = 9/4"}]},"mark":{"type":"text","fontStyle":"italic"},"encoding":{"x":{"datum":-14.75,"axis":null},"y":{"datum":5.38},"text":{"field":"t"}}},
{"data":{"values":[{"t":"q"}]},"mark":{"type":"text","fontStyle":"italic"},"encoding":{"x":{"datum":11.28,"axis":null},"y":{"datum":5.38},"text":{"field":"t"}}},
{"data":{"values":[{"t":"[2,0]"}]},"mark":{"type":"text","fontSize":10,"dx":8,"dy":5},"encoding":{"x":{"datum":11.28,"axis":null},"y":{"datum":5.38},"text":{"field":"t"}}},
{"data":{"values":[{"t":"= 3/4"}]},"mark":{"type":"text","dx":30},"encoding":{"x":{"datum":11.28,"axis":null},"y":{"datum":5.38},"text":{"field":"t"}}}
]},
{"width":583,"height":63,"layer":[
{"encoding":{"x":{"field":"x","type":"quantitative","scale":{"domain":[-15,14.75],"nice":false,"zero":false},"axis":null},"y":{"field":"y","type":"quantitative","scale":{"domain":[0,7.15],"nice":false,"zero":false},"axis":{"values":[0,5],"format":"d","title":"|ψᶜ[2,0](t)|²T","titlePadding":15,"titleFont":"DejaVu Serif","titleFontStyle":"italic","titleFontSize":15}}},"layer":[
{"data":{"name":"a4r"},"mark":{"type":"line","color":"#ff0000","opacity":0.5,"strokeWidth":5,"interpolate":"monotone"}},
{"data":{"name":"a4g"},"mark":{"type":"line","color":"#008000","opacity":0.5,"strokeWidth":4.5,"strokeDash":[10,5],"interpolate":"monotone"}},
{"data":{"name":"a4b"},"mark":{"type":"line","color":"#0000ff","strokeWidth":2.6,"strokeDash":[2.6,4.2],"interpolate":"monotone"}},
{"data":{"name":"a4c"},"mark":{"type":"line","color":"#00bfbf","strokeWidth":1.2,"strokeDash":[7,2,1.5,2],"interpolate":"monotone"}}]},
{"data":{"values":[{"t":"Q/e = 2"}]},"mark":{"type":"text","fontStyle":"italic"},"encoding":{"x":{"datum":-14.75,"axis":null},"y":{"datum":6.0},"text":{"field":"t"}}},
{"data":{"values":[{"t":"q"}]},"mark":{"type":"text","fontStyle":"italic"},"encoding":{"x":{"datum":11.28,"axis":null},"y":{"datum":6.0},"text":{"field":"t"}}},
{"data":{"values":[{"t":"[2,0]"}]},"mark":{"type":"text","fontSize":10,"dx":8,"dy":5},"encoding":{"x":{"datum":11.28,"axis":null},"y":{"datum":6.0},"text":{"field":"t"}}},
{"data":{"values":[{"t":"= 1"}]},"mark":{"type":"text","dx":30},"encoding":{"x":{"datum":11.28,"axis":null},"y":{"datum":6.0},"text":{"field":"t"}}}
]},
{"width":583,"height":63,"layer":[
{"encoding":{"x":{"field":"x","type":"quantitative","scale":{"domain":[-15,14.75],"nice":false,"zero":false},"axis":null},"y":{"field":"y","type":"quantitative","scale":{"domain":[0,5.2],"nice":false,"zero":false},"axis":{"values":[0,2.5],"format":".1f","title":null}}},"layer":[
{"data":{"name":"a5r"},"mark":{"type":"line","color":"#ff0000","opacity":0.5,"strokeWidth":5,"interpolate":"monotone"}},
{"data":{"name":"a5g"},"mark":{"type":"line","color":"#008000","opacity":0.5,"strokeWidth":4.5,"strokeDash":[10,5],"interpolate":"monotone"}},
{"data":{"name":"a5b"},"mark":{"type":"line","color":"#0000ff","strokeWidth":2.6,"strokeDash":[2.6,4.2],"interpolate":"monotone"}},
{"data":{"name":"a5c"},"mark":{"type":"line","color":"#00bfbf","strokeWidth":1.2,"strokeDash":[7,2,1.5,2],"interpolate":"monotone"}}]},
{"data":{"values":[{"t":"Q/e = 7/4"}]},"mark":{"type":"text","fontStyle":"italic"},"encoding":{"x":{"datum":-14.75,"axis":null},"y":{"datum":4.37},"text":{"field":"t"}}},
{"data":{"values":[{"t":"q"}]},"mark":{"type":"text","fontStyle":"italic"},"encoding":{"x":{"datum":11.28,"axis":null},"y":{"datum":4.37},"text":{"field":"t"}}},
{"data":{"values":[{"t":"[2,0]"}]},"mark":{"type":"text","fontSize":10,"dx":8,"dy":5},"encoding":{"x":{"datum":11.28,"axis":null},"y":{"datum":4.37},"text":{"field":"t"}}},
{"data":{"values":[{"t":"= 3/4"}]},"mark":{"type":"text","dx":30},"encoding":{"x":{"datum":11.28,"axis":null},"y":{"datum":4.37},"text":{"field":"t"}}}
]},
{"width":583,"height":63,"layer":[
{"encoding":{"x":{"field":"x","type":"quantitative","scale":{"domain":[-15,14.75],"nice":false,"zero":false},"axis":null},"y":{"field":"y","type":"quantitative","scale":{"domain":[0,3.0],"nice":false,"zero":false},"axis":{"values":[0,2],"format":"d","title":null}}},"layer":[
{"data":{"name":"a6r"},"mark":{"type":"line","color":"#ff0000","opacity":0.5,"strokeWidth":5,"interpolate":"monotone"}},
{"data":{"name":"a6g"},"mark":{"type":"line","color":"#008000","opacity":0.5,"strokeWidth":4.5,"strokeDash":[10,5],"interpolate":"monotone"}},
{"data":{"name":"a6b"},"mark":{"type":"line","color":"#0000ff","strokeWidth":2.6,"strokeDash":[2.6,4.2],"interpolate":"monotone"}},
{"data":{"name":"a6c"},"mark":{"type":"line","color":"#00bfbf","strokeWidth":1.2,"strokeDash":[7,2,1.5,2],"interpolate":"monotone"}}]},
{"data":{"values":[{"t":"Q/e = 3/2"}]},"mark":{"type":"text","fontStyle":"italic"},"encoding":{"x":{"datum":-14.75,"axis":null},"y":{"datum":2.52},"text":{"field":"t"}}},
{"data":{"values":[{"t":"q"}]},"mark":{"type":"text","fontStyle":"italic"},"encoding":{"x":{"datum":11.28,"axis":null},"y":{"datum":2.52},"text":{"field":"t"}}},
{"data":{"values":[{"t":"[2,0]"}]},"mark":{"type":"text","fontSize":10,"dx":8,"dy":5},"encoding":{"x":{"datum":11.28,"axis":null},"y":{"datum":2.52},"text":{"field":"t"}}},
{"data":{"values":[{"t":"= 1/2"}]},"mark":{"type":"text","dx":30},"encoding":{"x":{"datum":11.28,"axis":null},"y":{"datum":2.52},"text":{"field":"t"}}}
]},
{"width":583,"height":63,"layer":[
{"encoding":{"x":{"field":"x","type":"quantitative","scale":{"domain":[-15,14.75],"nice":false,"zero":false},"axis":{"values":[-12,-8,-4,0,4,8,12],"format":"d","title":"t/T","titlePadding":1}},"y":{"field":"y","type":"quantitative","scale":{"domain":[0,1.23],"nice":false,"zero":false},"axis":{"values":[0,0.8],"format":".1f","title":null}}},"layer":[
{"data":{"name":"a7r"},"mark":{"type":"line","color":"#ff0000","opacity":0.5,"strokeWidth":5,"interpolate":"monotone"}},
{"data":{"name":"a7g"},"mark":{"type":"line","color":"#008000","opacity":0.5,"strokeWidth":4.5,"strokeDash":[10,5],"interpolate":"monotone"}},
{"data":{"name":"a7b"},"mark":{"type":"line","color":"#0000ff","strokeWidth":2.6,"strokeDash":[2.6,4.2],"interpolate":"monotone"}},
{"data":{"name":"a7c"},"mark":{"type":"line","color":"#00bfbf","strokeWidth":1.2,"strokeDash":[7,2,1.5,2],"interpolate":"monotone"}}]},
{"data":{"values":[{"t":"Q/e = 5/4"}]},"mark":{"type":"text","fontStyle":"italic"},"encoding":{"x":{"datum":-14.75},"y":{"datum":1.03},"text":{"field":"t"}}},
{"data":{"values":[{"t":"q"}]},"mark":{"type":"text","fontStyle":"italic"},"encoding":{"x":{"datum":11.28},"y":{"datum":1.03},"text":{"field":"t"}}},
{"data":{"values":[{"t":"[2,0]"}]},"mark":{"type":"text","fontSize":10,"dx":8,"dy":5},"encoding":{"x":{"datum":11.28},"y":{"datum":1.03},"text":{"field":"t"}}},
{"data":{"values":[{"t":"= 1/4"}]},"mark":{"type":"text","dx":30},"encoding":{"x":{"datum":11.28},"y":{"datum":1.03},"text":{"field":"t"}}}
]}
]},
{"spacing":0,"bounds":"flush","resolve":{"scale":{"x":"independent","y":"independent"}},"vconcat":[
{"width":583,"height":63,"layer":[
{"encoding":{"x":{"field":"x","type":"quantitative","scale":{"domain":[-15,14.75],"nice":false,"zero":false},"axis":null},"y":{"field":"y","type":"quantitative","scale":{"domain":[0,1.4],"nice":false,"zero":false},"axis":{"values":[0,1],"format":"d","title":null}}},"layer":[
{"data":{"name":"b1r"},"mark":{"type":"line","color":"#ff0000","opacity":0.5,"strokeWidth":5}},
{"data":{"name":"b1g"},"mark":{"type":"line","color":"#008000","opacity":0.5,"strokeWidth":4.5,"strokeDash":[10,5]}},
{"data":{"name":"b1b"},"mark":{"type":"line","color":"#0000ff","strokeWidth":2.6,"strokeDash":[2.6,4.2]}},
{"data":{"name":"b1c"},"mark":{"type":"line","color":"#00bfbf","strokeWidth":1.2,"strokeDash":[7,2,1.5,2]}}]},
{"data":{"values":[{"t":"(b)"}]},"mark":{"type":"text","font":"Open Sans","fontSize":21,"color":"#000","align":"center"},"encoding":{"x":{"datum":-17.45,"axis":null},"y":{"datum":0.68},"text":{"field":"t"}}},
{"data":{"values":[{"t":"Q/e = 11/4"}]},"mark":{"type":"text","fontStyle":"italic"},"encoding":{"x":{"datum":-14.75,"axis":null},"y":{"datum":1.18},"text":{"field":"t"}}},
{"data":{"values":[{"t":"q"}]},"mark":{"type":"text","fontStyle":"italic"},"encoding":{"x":{"datum":11.28,"axis":null},"y":{"datum":1.18},"text":{"field":"t"}}},
{"data":{"values":[{"t":"[2,1]"}]},"mark":{"type":"text","fontSize":10,"dx":8,"dy":5},"encoding":{"x":{"datum":11.28,"axis":null},"y":{"datum":1.18},"text":{"field":"t"}}},
{"data":{"values":[{"t":"= 1/4"}]},"mark":{"type":"text","dx":30},"encoding":{"x":{"datum":11.28,"axis":null},"y":{"datum":1.18},"text":{"field":"t"}}}
]},
{"width":583,"height":63,"layer":[
{"encoding":{"x":{"field":"x","type":"quantitative","scale":{"domain":[-15,14.75],"nice":false,"zero":false},"axis":null},"y":{"field":"y","type":"quantitative","scale":{"domain":[0,1.62],"nice":false,"zero":false},"axis":{"values":[0,1],"format":"d","title":null}}},"layer":[
{"data":{"name":"b2r"},"mark":{"type":"line","color":"#ff0000","opacity":0.5,"strokeWidth":5}},
{"data":{"name":"b2g"},"mark":{"type":"line","color":"#008000","opacity":0.5,"strokeWidth":4.5,"strokeDash":[10,5]}},
{"data":{"name":"b2b"},"mark":{"type":"line","color":"#0000ff","strokeWidth":2.6,"strokeDash":[2.6,4.2]}},
{"data":{"name":"b2c"},"mark":{"type":"line","color":"#00bfbf","strokeWidth":1.2,"strokeDash":[7,2,1.5,2]}}]},
{"data":{"values":[{"t":"Q/e = 5/2"}]},"mark":{"type":"text","fontStyle":"italic"},"encoding":{"x":{"datum":-14.75,"axis":null},"y":{"datum":1.36},"text":{"field":"t"}}},
{"data":{"values":[{"t":"q"}]},"mark":{"type":"text","fontStyle":"italic"},"encoding":{"x":{"datum":11.28,"axis":null},"y":{"datum":1.36},"text":{"field":"t"}}},
{"data":{"values":[{"t":"[2,1]"}]},"mark":{"type":"text","fontSize":10,"dx":8,"dy":5},"encoding":{"x":{"datum":11.28,"axis":null},"y":{"datum":1.36},"text":{"field":"t"}}},
{"data":{"values":[{"t":"= 1/2"}]},"mark":{"type":"text","dx":30},"encoding":{"x":{"datum":11.28,"axis":null},"y":{"datum":1.36},"text":{"field":"t"}}}
]},
{"width":583,"height":63,"layer":[
{"encoding":{"x":{"field":"x","type":"quantitative","scale":{"domain":[-15,14.75],"nice":false,"zero":false},"axis":null},"y":{"field":"y","type":"quantitative","scale":{"domain":[0,2.0],"nice":false,"zero":false},"axis":{"values":[0,1],"format":"d","title":null}}},"layer":[
{"data":{"name":"b3r"},"mark":{"type":"line","color":"#ff0000","opacity":0.5,"strokeWidth":5}},
{"data":{"name":"b3g"},"mark":{"type":"line","color":"#008000","opacity":0.5,"strokeWidth":4.5,"strokeDash":[10,5]}},
{"data":{"name":"b3b"},"mark":{"type":"line","color":"#0000ff","strokeWidth":2.6,"strokeDash":[2.6,4.2]}},
{"data":{"name":"b3c"},"mark":{"type":"line","color":"#00bfbf","strokeWidth":1.2,"strokeDash":[7,2,1.5,2]}}]},
{"data":{"values":[{"t":"Q/e = 9/4"}]},"mark":{"type":"text","fontStyle":"italic"},"encoding":{"x":{"datum":-14.75,"axis":null},"y":{"datum":1.68},"text":{"field":"t"}}},
{"data":{"values":[{"t":"q"}]},"mark":{"type":"text","fontStyle":"italic"},"encoding":{"x":{"datum":11.28,"axis":null},"y":{"datum":1.68},"text":{"field":"t"}}},
{"data":{"values":[{"t":"[2,1]"}]},"mark":{"type":"text","fontSize":10,"dx":8,"dy":5},"encoding":{"x":{"datum":11.28,"axis":null},"y":{"datum":1.68},"text":{"field":"t"}}},
{"data":{"values":[{"t":"= 3/4"}]},"mark":{"type":"text","dx":30},"encoding":{"x":{"datum":11.28,"axis":null},"y":{"datum":1.68},"text":{"field":"t"}}}
]},
{"width":583,"height":63,"layer":[
{"encoding":{"x":{"field":"x","type":"quantitative","scale":{"domain":[-15,14.75],"nice":false,"zero":false},"axis":null},"y":{"field":"y","type":"quantitative","scale":{"domain":[0,2.57],"nice":false,"zero":false},"axis":{"values":[0,2],"format":"d","title":"|ψᶜ[2,1](t)|²T","titlePadding":15,"titleFont":"DejaVu Serif","titleFontStyle":"italic","titleFontSize":15}}},"layer":[
{"data":{"name":"b4r"},"mark":{"type":"line","color":"#ff0000","opacity":0.5,"strokeWidth":5}},
{"data":{"name":"b4g"},"mark":{"type":"line","color":"#008000","opacity":0.5,"strokeWidth":4.5,"strokeDash":[10,5]}},
{"data":{"name":"b4b"},"mark":{"type":"line","color":"#0000ff","strokeWidth":2.6,"strokeDash":[2.6,4.2]}},
{"data":{"name":"b4c"},"mark":{"type":"line","color":"#00bfbf","strokeWidth":1.2,"strokeDash":[7,2,1.5,2]}}]},
{"data":{"values":[{"t":"Q/e = 2"}]},"mark":{"type":"text","fontStyle":"italic"},"encoding":{"x":{"datum":-14.75,"axis":null},"y":{"datum":2.16},"text":{"field":"t"}}},
{"data":{"values":[{"t":"q"}]},"mark":{"type":"text","fontStyle":"italic"},"encoding":{"x":{"datum":11.28,"axis":null},"y":{"datum":2.16},"text":{"field":"t"}}},
{"data":{"values":[{"t":"[2,1]"}]},"mark":{"type":"text","fontSize":10,"dx":8,"dy":5},"encoding":{"x":{"datum":11.28,"axis":null},"y":{"datum":2.16},"text":{"field":"t"}}},
{"data":{"values":[{"t":"= 1"}]},"mark":{"type":"text","dx":30},"encoding":{"x":{"datum":11.28,"axis":null},"y":{"datum":2.16},"text":{"field":"t"}}}
]},
{"width":583,"height":63,"layer":[
{"encoding":{"x":{"field":"x","type":"quantitative","scale":{"domain":[-15,14.75],"nice":false,"zero":false},"axis":null},"y":{"field":"y","type":"quantitative","scale":{"domain":[0,1.54],"nice":false,"zero":false},"axis":{"values":[0,1],"format":"d","title":null}}},"layer":[
{"data":{"name":"b5r"},"mark":{"type":"line","color":"#ff0000","opacity":0.5,"strokeWidth":5}},
{"data":{"name":"b5g"},"mark":{"type":"line","color":"#008000","opacity":0.5,"strokeWidth":4.5,"strokeDash":[10,5]}},
{"data":{"name":"b5b"},"mark":{"type":"line","color":"#0000ff","strokeWidth":2.6,"strokeDash":[2.6,4.2]}},
{"data":{"name":"b5c"},"mark":{"type":"line","color":"#00bfbf","strokeWidth":1.2,"strokeDash":[7,2,1.5,2]}}]},
{"data":{"values":[{"t":"Q/e = 7/4"}]},"mark":{"type":"text","fontStyle":"italic"},"encoding":{"x":{"datum":-14.75,"axis":null},"y":{"datum":1.29},"text":{"field":"t"}}},
{"data":{"values":[{"t":"q"}]},"mark":{"type":"text","fontStyle":"italic"},"encoding":{"x":{"datum":11.28,"axis":null},"y":{"datum":1.29},"text":{"field":"t"}}},
{"data":{"values":[{"t":"[2,1]"}]},"mark":{"type":"text","fontSize":10,"dx":8,"dy":5},"encoding":{"x":{"datum":11.28,"axis":null},"y":{"datum":1.29},"text":{"field":"t"}}},
{"data":{"values":[{"t":"= 3/4"}]},"mark":{"type":"text","dx":30},"encoding":{"x":{"datum":11.28,"axis":null},"y":{"datum":1.29},"text":{"field":"t"}}}
]},
{"width":583,"height":63,"layer":[
{"encoding":{"x":{"field":"x","type":"quantitative","scale":{"domain":[-15,14.75],"nice":false,"zero":false},"axis":null},"y":{"field":"y","type":"quantitative","scale":{"domain":[0,1.1],"nice":false,"zero":false},"axis":{"values":[0,0.5],"format":".1f","title":null}}},"layer":[
{"data":{"name":"b6r"},"mark":{"type":"line","color":"#ff0000","opacity":0.5,"strokeWidth":5}},
{"data":{"name":"b6g"},"mark":{"type":"line","color":"#008000","opacity":0.5,"strokeWidth":4.5,"strokeDash":[10,5]}},
{"data":{"name":"b6b"},"mark":{"type":"line","color":"#0000ff","strokeWidth":2.6,"strokeDash":[2.6,4.2]}},
{"data":{"name":"b6c"},"mark":{"type":"line","color":"#00bfbf","strokeWidth":1.2,"strokeDash":[7,2,1.5,2]}}]},
{"data":{"values":[{"t":"Q/e = 3/2"}]},"mark":{"type":"text","fontStyle":"italic"},"encoding":{"x":{"datum":-14.75,"axis":null},"y":{"datum":0.92},"text":{"field":"t"}}},
{"data":{"values":[{"t":"q"}]},"mark":{"type":"text","fontStyle":"italic"},"encoding":{"x":{"datum":11.28,"axis":null},"y":{"datum":0.92},"text":{"field":"t"}}},
{"data":{"values":[{"t":"[2,1]"}]},"mark":{"type":"text","fontSize":10,"dx":8,"dy":5},"encoding":{"x":{"datum":11.28,"axis":null},"y":{"datum":0.92},"text":{"field":"t"}}},
{"data":{"values":[{"t":"= 1/2"}]},"mark":{"type":"text","dx":30},"encoding":{"x":{"datum":11.28,"axis":null},"y":{"datum":0.92},"text":{"field":"t"}}}
]},
{"width":583,"height":63,"layer":[
{"encoding":{"x":{"field":"x","type":"quantitative","scale":{"domain":[-15,14.75],"nice":false,"zero":false},"axis":{"values":[-12,-8,-4,0,4,8,12],"format":"d","title":"t/T","titlePadding":1}},"y":{"field":"y","type":"quantitative","scale":{"domain":[0,0.5],"nice":false,"zero":false},"axis":{"values":[0,0.25],"format":".2f","title":null}}},"layer":[
{"data":{"name":"b7r"},"mark":{"type":"line","color":"#ff0000","opacity":0.5,"strokeWidth":5}},
{"data":{"name":"b7g"},"mark":{"type":"line","color":"#008000","opacity":0.5,"strokeWidth":4.5,"strokeDash":[10,5]}},
{"data":{"name":"b7b"},"mark":{"type":"line","color":"#0000ff","strokeWidth":2.6,"strokeDash":[2.6,4.2]}},
{"data":{"name":"b7c"},"mark":{"type":"line","color":"#00bfbf","strokeWidth":1.2,"strokeDash":[7,2,1.5,2]}}]},
{"data":{"values":[{"t":"Q/e = 5/4"}]},"mark":{"type":"text","fontStyle":"italic"},"encoding":{"x":{"datum":-14.75},"y":{"datum":0.42},"text":{"field":"t"}}},
{"data":{"values":[{"t":"q"}]},"mark":{"type":"text","fontStyle":"italic"},"encoding":{"x":{"datum":11.28},"y":{"datum":0.42},"text":{"field":"t"}}},
{"data":{"values":[{"t":"[2,1]"}]},"mark":{"type":"text","fontSize":10,"dx":8,"dy":5},"encoding":{"x":{"datum":11.28},"y":{"datum":0.42},"text":{"field":"t"}}},
{"data":{"values":[{"t":"= 1/4"}]},"mark":{"type":"text","dx":30},"encoding":{"x":{"datum":11.28},"y":{"datum":0.42},"text":{"field":"t"}}}
]}
]}
]
}
